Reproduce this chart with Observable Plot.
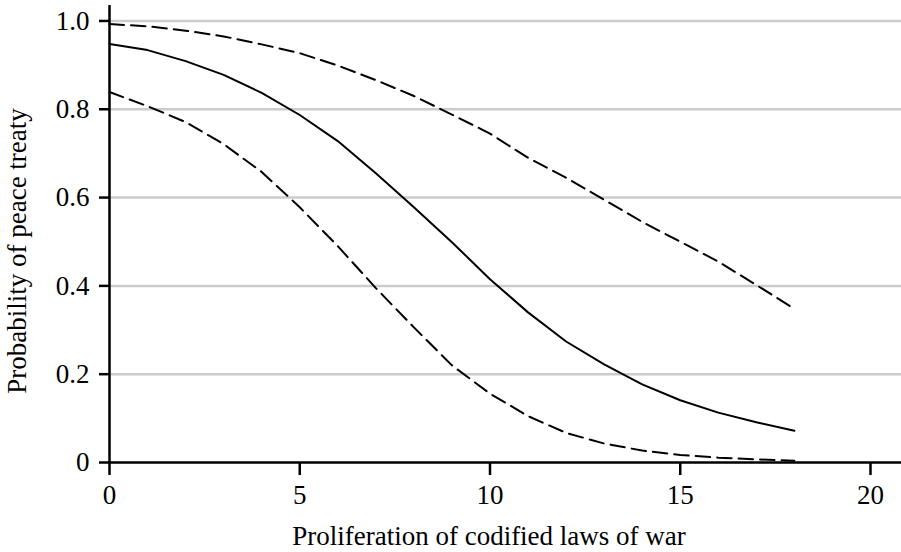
<!DOCTYPE html>
<html><head><meta charset="utf-8">
<script src="https://cdn.jsdelivr.net/npm/d3@7"></script>
<script src="https://cdn.jsdelivr.net/npm/@observablehq/plot@0.6"></script>
<style>body{margin:0;background:#fff}</style>
</head><body><div id="chart"></div>
<script>
// Data
const laws = [0,1,2,3,4,5,6,7,8,9,10,11,12,13,14,15,16,17,18];
const predicted = [0.948,0.934,0.909,0.878,0.837,0.787,0.728,0.655,0.578,0.499,0.415,0.340,0.274,0.222,0.177,0.141,0.113,0.091,0.072];
const upperCI = [0.993,0.988,0.978,0.965,0.947,0.927,0.899,0.866,0.830,0.788,0.745,0.690,0.645,0.595,0.545,0.500,0.455,0.402,0.348];
const lowerCI = [0.839,0.807,0.771,0.721,0.658,0.578,0.490,0.395,0.306,0.220,0.156,0.105,0.067,0.043,0.027,0.017,0.011,0.007,0.004];
const yTicks = [0,0.2,0.4,0.6,0.8,1.0];
const yTickLabels = ["0","0.2","0.4","0.6","0.8","1.0"];
const xTicks = [0,5,10,15,20];
const xLabel = "Proliferation of codified laws of war";
const yLabel = "Probability of peace treaty";

const rows = laws.map((x, i) => ({x, mean: predicted[i], hi: upperCI[i], lo: lowerCI[i]}));
const font = '"Liberation Serif", "Times New Roman", serif';

const plot = Plot.plot({
  width: 901, height: 552,
  marginLeft: 109, marginRight: 0, marginTop: 5, marginBottom: 90,
  style: {fontFamily: font, fontSize: "27px", background: "#fff", color: "#000"},
  x: {domain: [0, 20.815]},
  y: {domain: [0, 1.035]},
  marks: [
    Plot.ruleY(yTicks.slice(1), {stroke: "#cccccc", strokeWidth: 2.5}),
    Plot.axisY(yTicks, {tickSize: 10, tickPadding: 10, strokeWidth: 2.5,
      fontFamily: font, fontSize: 27, fontVariant: "normal",
      tickFormat: d => yTickLabels[yTicks.indexOf(d)], label: null}),
    Plot.axisX(xTicks, {tickSize: 13, tickPadding: 9, strokeWidth: 2.5,
      fontFamily: font, fontSize: 27, fontVariant: "normal",
      tickFormat: d => String(d), label: null}),
    Plot.ruleX([0], {strokeWidth: 2.5}),
    Plot.ruleY([0], {strokeWidth: 2.5}),
    Plot.line(rows, {x: "x", y: "hi", stroke: "black", strokeWidth: 2, strokeDasharray: "14.5,7"}),
    Plot.line(rows, {x: "x", y: "lo", stroke: "black", strokeWidth: 2, strokeDasharray: "14.5,7"}),
    Plot.line(rows, {x: "x", y: "mean", stroke: "black", strokeWidth: 2})
  ]
});

const svg = d3.select(plot);
svg.selectAll("text").style("font-family", font);
svg.append("text")
  .attr("x", 489).attr("y", 545)
  .attr("text-anchor", "middle")
  .style("font-family", font).style("font-size", "27px").attr("fill", "#000")
  .text(xLabel);
svg.append("text")
  .attr("transform", "translate(26,251) rotate(-90)")
  .attr("text-anchor", "middle")
  .style("font-family", font).style("font-size", "27px").attr("fill", "#000")
  .text(yLabel);

document.getElementById("chart").appendChild(plot);
</script>
</body></html>
